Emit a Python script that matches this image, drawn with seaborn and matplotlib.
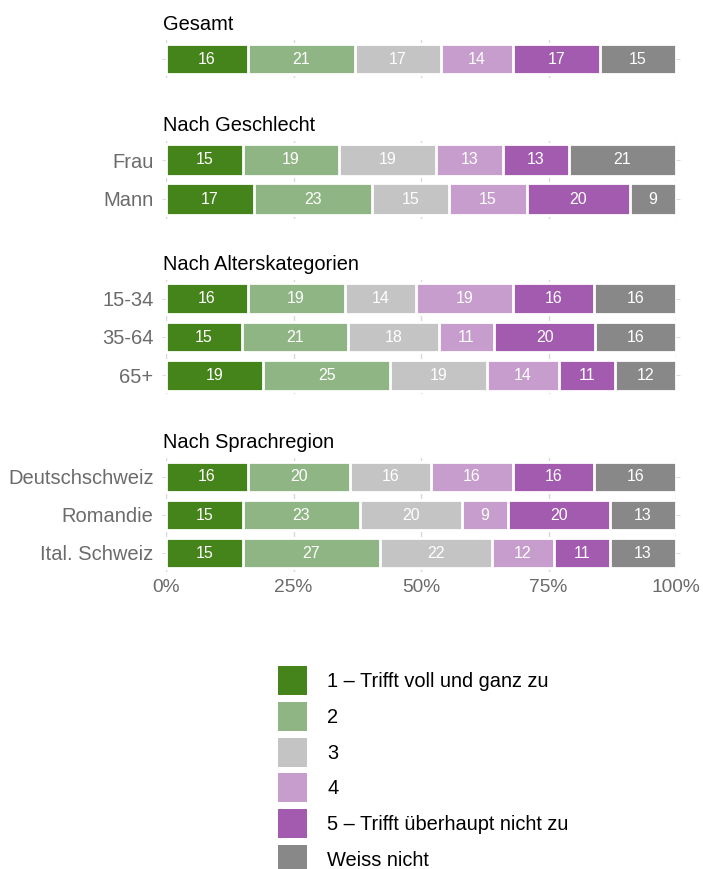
import matplotlib
matplotlib.use("Agg")
import matplotlib.pyplot as plt
from matplotlib.patches import Patch
import seaborn as sns
import pandas as pd
import numpy as np

sns.set_theme(style="white")
plt.rcParams['font.family'] = ['Liberation Sans', 'DejaVu Sans']

# ---- data ----
answer_labels = ["1 – Trifft voll und ganz zu", "2", "3", "4",
                 "5 – Trifft überhaupt nicht zu", "Weiss nicht"]
colors = ["#45841a", "#8fb584", "#c4c4c4", "#c69dcc", "#a35bb0", "#888888"]

group_titles = ["Gesamt", "Nach Geschlecht", "Nach Alterskategorien", "Nach Sprachregion"]

gesamt_rows = [""]
gesamt_vals = [[16, 21, 17, 14, 17, 15]]

geschlecht_rows = ["Frau", "Mann"]
geschlecht_vals = [[15, 19, 19, 13, 13, 21],
                   [17, 23, 15, 15, 20, 9]]

alter_rows = ["15-34", "35-64", "65+"]
alter_vals = [[16, 19, 14, 19, 16, 16],
              [15, 21, 18, 11, 20, 16],
              [19, 25, 19, 14, 11, 12]]

sprach_rows = ["Deutschschweiz", "Romandie", "Ital. Schweiz"]
sprach_vals = [[16, 20, 16, 16, 16, 16],
               [15, 23, 20, 9, 20, 13],
               [15, 27, 22, 12, 11, 13]]

x_ticks = [0, 25, 50, 75, 100]
x_ticklabels = ["0%", "25%", "50%", "75%", "100%"]

groups = [(gesamt_rows, gesamt_vals), (geschlecht_rows, geschlecht_vals),
          (alter_rows, alter_vals), (sprach_rows, sprach_vals)]

# ---- layout (pixel positions of axes) ----
W, H = 703, 869
fig = plt.figure(figsize=(W / 100, H / 100), dpi=100)
axes_px = [(39.75, 78.25), (140.5, 218.5), (279.5, 394.5), (458, 572)]
left_px, right_px = 166, 676

tick_gray = "#6b6b6b"

for gi, ((rows, vals), (top, bot)) in enumerate(zip(groups, axes_px)):
    ax = fig.add_axes([left_px / W, 1 - bot / H, (right_px - left_px) / W, (bot - top) / H])
    arr = np.array(vals, dtype=float)
    shares = arr / arr.sum(axis=1, keepdims=True) * 100
    cum = np.cumsum(shares, axis=1)
    df = pd.DataFrame({"label": rows})
    for k in range(6):
        df[f"c{k}"] = cum[:, k]
    for k in reversed(range(6)):
        sns.barplot(data=df, x=f"c{k}", y="label", orient="h", color=colors[k],
                    saturation=1, width=0.8, edgecolor="white", linewidth=2,
                    errorbar=None, ax=ax)
    for i in range(len(rows)):
        for k in range(6):
            ax.text(cum[i, k] - shares[i, k] / 2, i, str(vals[i][k]),
                    ha="center", va="center", color="white", fontsize=11.5)
    ax.set_xlim(0, 100)
    ax.set_xticks(x_ticks)
    ax.set_axisbelow(True)
    ax.grid(axis="x", color="#d8d8d8", linewidth=1)
    ax.grid(axis="y", visible=False)
    for s in ax.spines.values():
        s.set_visible(False)
    ax.set_xlabel("")
    ax.set_ylabel("")
    ax.tick_params(axis="y", left=True, right=True, length=3, width=0.8,
                   color="#dcdcdc", labelsize=14.5, labelcolor=tick_gray, pad=6)
    if gi == len(groups) - 1:
        ax.set_xticklabels(x_ticklabels)
        ax.tick_params(axis="x", length=0, labelsize=13.8, labelcolor=tick_gray, pad=5)
    else:
        ax.tick_params(axis="x", length=0, labelbottom=False)
    ax.annotate(group_titles[gi], xy=(0, 1), xycoords="axes fraction",
                xytext=(-2, 7), textcoords="offset points", ha="left",
                va="baseline", fontsize=14.4, color="black")

handles = [Patch(facecolor=c, edgecolor="none") for c in colors]
fig.legend(handles, answer_labels, loc="upper left",
           bbox_to_anchor=(278 / W, 1 - 666 / H), frameon=False, fontsize=14.4,
           handlelength=1.45, handleheight=1.855, handletextpad=1.0,
           labelspacing=0.34, borderpad=0, borderaxespad=0, labelcolor="black")

fig.savefig("out.png", dpi=100)
